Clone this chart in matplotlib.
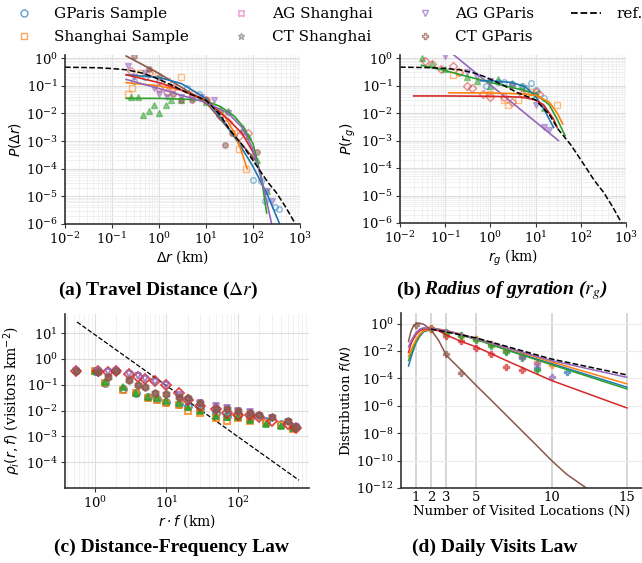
import matplotlib
matplotlib.use("Agg")
import matplotlib.pyplot as plt
from matplotlib.lines import Line2D

plt.rcParams['font.family'] = ['DejaVu Serif']
plt.rcParams['font.size'] = 9.5

# colores tab10 para las series de los paneles
C_BLUE, C_ORANGE, C_GREEN = '#1f77b4', '#ff7f0e', '#2ca02c'
C_RED, C_PURPLE, C_BROWN = '#d62728', '#9467bd', '#8c564b'

# leyenda
legend_labels = ['GParis Sample', 'Shanghai Sample', 'AG Shanghai', 'CT Shanghai',
                 'AG GParis', 'CT GParis', 'ref.']

# ---------------- (a) Travel distance ----------------
ref_x = [0.01, 0.05, 0.1, 0.2, 0.4, 0.7, 1, 2, 4, 10, 20, 32, 60, 100, 200, 320, 500, 800]
ref_y = [0.47, 0.45, 0.42, 0.38, 0.3, 0.22, 0.17, 0.1, 0.055, 0.03, 0.009, 2.5e-3,
         7e-4, 2e-4, 3.5e-5, 1.3e-5, 4e-6, 1e-6]

a_fit = {
    C_BROWN: ([0.2, 1, 10, 110], [1.2, 0.28, 0.025, 2.1e-4]),
    C_BLUE: ([0.2, 0.5, 1, 3, 10, 30, 60, 100, 200, 370],
             [0.25, 0.22, 0.2, 0.12, 0.035, 3e-3, 5e-4, 1.2e-4, 1.2e-5, 1e-6]),
    C_ORANGE: ([0.2, 1, 3, 10, 25, 40, 55, 75],
               [0.13, 0.1, 0.07, 0.03, 8e-3, 2e-3, 5e-4, 1e-4]),
    C_GREEN: ([0.2, 1, 5, 10, 20, 40, 60, 100, 150, 195],
              [0.035, 0.035, 0.032, 0.028, 0.018, 8e-3, 3.5e-3, 8e-4, 5e-5, 2.5e-6]),
    C_RED: ([0.2, 1, 3, 10, 30, 60, 110],
            [0.25, 0.13, 0.07, 0.03, 6e-3, 1.8e-3, 3e-4]),
    C_PURPLE: ([0.2, 1, 3, 10, 30, 60, 100, 160, 250],
               [0.17, 0.08, 0.045, 0.025, 0.01, 3e-3, 5e-4, 3e-5, 1e-6]),
}
a_pts_blue = [(0.3, 0.15), (0.5, 0.2), (1, 0.15), (2, 0.12), (4, 0.08), (7, 0.05),
              (100, 4e-5), (150, 3.5e-5), (180, 7e-6), (300, 4e-6), (350, 3.5e-6)]
a_pts_orange = [(0.22, 0.05), (0.27, 0.08), (0.4, 0.3), (0.7, 0.3), (1.5, 0.15),
                (3, 0.2), (5, 0.05), (10, 0.03), (20, 0.01), (40, 2e-3), (50, 5e-4), (70, 1e-4)]
a_pts_green = [(0.25, 0.04), (0.35, 0.04), (0.45, 0.009), (0.6, 0.012), (0.8, 0.02),
               (1, 0.01), (1.4, 0.02), (1.8, 0.03), (3, 0.03), (10, 0.025), (20, 0.015),
               (30, 0.012), (60, 3e-3), (80, 1.5e-3), (120, 2e-4), (200, 1.5e-5)]
a_pts_red = [(0.25, 0.35), (0.6, 0.3), (1, 0.08), (1.5, 0.06), (2, 0.08), (5, 0.04),
             (10, 0.03), (20, 8e-3), (30, 5e-3), (50, 1.5e-3), (80, 2e-3)]
a_pts_purple = [(0.22, 0.5), (0.3, 0.2), (0.5, 0.3), (0.8, 0.08), (1, 0.05), (1.5, 0.04),
                (3, 0.04), (5, 0.035), (8, 0.04), (15, 0.03), (30, 0.01), (60, 2e-3),
                (200, 1.5e-5), (250, 7e-6)]
a_pts_brown = [(0.3, 1.2), (0.6, 0.4), (1, 0.2), (2, 0.05), (3, 0.03), (5, 0.03),
               (10, 0.03), (25, 7e-4), (35, 2e-3), (100, 3e-4), (120, 4e-4)]

# ---------------- (b) Radius of gyration ----------------
b_fit = {
    C_PURPLE: ([0.14, 32], [1.5, 1e-3]),
    C_GREEN: ([0.03, 0.1, 1, 5, 10, 20, 30, 45],
              [0.55, 0.35, 0.13, 0.07, 0.05, 0.02, 6e-3, 1.5e-3]),
    C_BLUE: ([0.6, 1, 3, 6, 10, 15, 20, 25],
             [0.15, 0.15, 0.13, 0.09, 0.04, 0.015, 6e-3, 3e-3]),
    C_ORANGE: ([0.12, 1, 5, 10, 20, 30, 40],
               [0.055, 0.054, 0.05, 0.045, 0.025, 0.01, 4e-3]),
    C_RED: ([0.02, 0.1, 1, 5, 10, 15, 25, 30],
            [0.042, 0.042, 0.041, 0.038, 0.03, 0.02, 6e-3, 3e-3]),
}
b_pts_green = [(0.03, 1.0), (0.05, 0.6), (0.1, 0.4), (0.3, 0.2), (0.5, 0.15), (1, 0.1),
               (1.5, 0.18), (3, 0.12), (5, 0.1), (10, 0.05), (15, 0.015)]
b_pts_red = [(0.035, 0.8), (0.05, 0.6), (0.08, 0.4), (0.15, 0.5), (0.2, 0.3), (0.3, 0.1),
             (0.4, 0.08), (0.7, 0.05), (1, 0.04), (2, 0.04), (3, 0.025), (5, 0.05),
             (10, 0.06), (12, 0.05)]
b_pts_blue = [(0.8, 0.1), (1.5, 0.13), (2, 0.13), (3, 0.11), (5, 0.1), (6, 0.08),
              (8, 0.12), (10, 0.07), (15, 0.035)]
b_pts_orange = [(0.15, 0.25), (0.2, 0.3), (1, 0.05), (2, 0.03), (2.5, 0.02), (4, 0.03),
                (6, 0.05), (8, 0.06), (30, 0.02)]
b_pts_purple = [(0.1, 1.2), (0.3, 0.3), (0.5, 0.2), (1, 0.15), (3, 0.1), (10, 0.02),
                (15, 3e-3), (20, 2.5e-3)]

# ---------------- (c) Distance-frequency law ----------------
c_ref_x = [0.56, 725]
c_ref_y = [27, 2e-5]
c_low_x = [1.0, 1.4, 2.5, 3.8, 5.5, 7.5, 10, 15, 20, 30, 50, 70, 100, 150, 250, 400, 600]
c_blue = [0.33, 0.12, 0.07, 0.05, 0.035, 0.028, 0.022, 0.018, 0.015, 0.011, 0.008,
          0.006, 0.0065, 0.005, 0.004, 0.003, 0.0023]
c_orange = [0.33, 0.12, 0.065, 0.048, 0.032, 0.025, 0.02, 0.016, 0.01, 0.008, 0.005,
            0.004, 0.005, 0.004, 0.0033, 0.0028, 0.002]
c_green = [0.33, 0.125, 0.08, 0.05, 0.034, 0.03, 0.024, 0.019, 0.014, 0.01, 0.006,
           0.0055, 0.0055, 0.0045, 0.003, 0.0025, 0.0022]
c_high_x = [0.55, 1.1, 1.5, 2, 3, 4, 5, 7, 10, 15, 20, 30, 50, 70, 100, 150, 200, 300, 500, 650]
c_red = [0.33, 0.33, 0.3, 0.33, 0.26, 0.2, 0.17, 0.14, 0.1, 0.05, 0.025, 0.015,
         0.012, 0.008, 0.007, 0.007, 0.0055, 0.004, 0.003, 0.0022]
c_purple = [0.33, 0.33, 0.3, 0.33, 0.25, 0.22, 0.16, 0.13, 0.1, 0.04, 0.025, 0.02,
            0.015, 0.013, 0.01, 0.009, 0.006, 0.005, 0.0035, 0.0024]
c_brown = [0.33, 0.3, 0.2, 0.33, 0.15, 0.1, 0.08, 0.05, 0.045, 0.035, 0.03, 0.02,
           0.012, 0.012, 0.01, 0.008, 0.007, 0.0055, 0.004, 0.0024]

# ---------------- (d) Daily visits law ----------------
d_x = [0.5, 0.65, 0.8, 1.0, 1.25, 1.5, 2, 2.5, 3, 4, 5, 7, 10, 15]
d_blue = [8e-4, 3e-3, 0.01, 0.04, 0.12, 0.25, 0.4, 0.38, 0.3, 0.15, 0.07, 0.013, 1.2e-3, 2.3e-5]
d_red = [0.008, 0.03, 0.07, 0.16, 0.3, 0.4, 0.42, 0.3, 0.15, 0.05, 0.02, 2e-3, 7e-5, 7e-7]
d_orange = [4e-3, 0.01, 0.025, 0.07, 0.18, 0.3, 0.42, 0.4, 0.32, 0.17, 0.08, 0.017, 1.6e-3, 4e-5]
d_green = [2e-3, 6e-3, 0.015, 0.05, 0.14, 0.28, 0.4, 0.38, 0.3, 0.15, 0.07, 0.012, 1e-3, 1.7e-5]
d_purple = [0.02, 0.05, 0.1, 0.22, 0.4, 0.5, 0.45, 0.38, 0.3, 0.16, 0.08, 0.018, 2e-3, 1.2e-4]
d_brown_x = [0.5, 0.65, 0.8, 1.0, 1.2, 1.5, 2, 2.5, 3, 4, 5, 6, 7, 8, 9, 10, 11, 12.3]
d_brown = [0.05, 0.25, 0.6, 0.95, 1.1, 0.9, 0.35, 0.06, 5e-3, 4e-4, 3e-5, 2.5e-6,
           2e-7, 1.6e-8, 1.3e-9, 1e-10, 1e-11, 1e-12]
d_ref_x = [2, 3, 5, 7, 10, 15]
d_ref_y = [0.4, 0.25, 0.09, 0.022, 2.6e-3, 1.8e-4]
d_pts = {
    C_BROWN: [(1, 0.85), (2, 0.38), (3, 6e-3), (4, 2.7e-4)],
    C_RED: [(2, 0.45), (3, 0.13), (4, 0.055), (5, 0.018), (6, 6e-3), (7, 7e-4), (8, 4e-4)],
    C_BLUE: [(2, 0.4), (3, 0.25), (4, 0.15), (5, 0.08), (6, 0.035), (7, 0.01), (8, 4e-3),
             (9, 6e-4), (11, 3e-4)],
    C_ORANGE: [(2, 0.4), (3, 0.22), (4, 0.12), (5, 0.07), (6, 0.032), (7, 0.012), (8, 5e-3),
               (9, 1.5e-3), (10, 9e-4)],
    C_GREEN: [(3, 0.22), (4, 0.12), (5, 0.065), (6, 0.025), (7, 8e-3), (8, 3e-3), (9, 4e-4)],
    C_PURPLE: [(8, 3.5e-3), (9, 1.2e-3), (10, 1.2e-4)],
}


def style_axes(ax, minor=True):
    ax.set_facecolor('white')
    ax.grid(which='major', color='#dedede', lw=0.8)
    if minor:
        ax.grid(which='minor', color='#ececec', lw=0.5)
    ax.set_axisbelow(True)
    for s in ['top', 'right']:
        ax.spines[s].set_visible(False)
    for s in ['left', 'bottom']:
        ax.spines[s].set_color('#333333')
        ax.spines[s].set_linewidth(1.2)
    ax.tick_params(which='major', length=3, color='#333333', labelsize=9.5, pad=2)
    ax.tick_params(which='minor', length=0)


def scatter_pts(ax, pts, color, marker, filled=False, ms=4, alpha=0.5):
    xs = [p[0] for p in pts]
    ys = [p[1] for p in pts]
    ax.plot(xs, ys, ls='none', marker=marker, ms=ms, mec=color,
            mfc=color if filled else 'none', mew=1.0, alpha=alpha)


fig = plt.figure(figsize=(6.42, 5.63), dpi=100)
W, H = 642, 563


def axes_px(x0, y0, x1, y1):
    return fig.add_axes([x0 / W, 1 - y1 / H, (x1 - x0) / W, (y1 - y0) / H])


# ---- panel (a)
ax = axes_px(65, 55, 300, 224)
style_axes(ax)
ax.set_xscale('log')
ax.set_yscale('log')
scatter_pts(ax, a_pts_blue, C_BLUE, 'o')
scatter_pts(ax, a_pts_orange, C_ORANGE, 's')
scatter_pts(ax, a_pts_green, C_GREEN, '^', filled=True)
scatter_pts(ax, a_pts_red, C_RED, 'D')
scatter_pts(ax, a_pts_purple, C_PURPLE, 'v', filled=True)
scatter_pts(ax, a_pts_brown, C_BROWN, 'o', filled=True)
for col, (xs, ys) in a_fit.items():
    ax.plot(xs, ys, color=col, lw=1.2)
ax.plot(ref_x, ref_y, 'k--', lw=1.1)
ax.set_xlim(1e-2, 1e3)
ax.set_ylim(1e-6, 1.3)
ax.set_xticks([1e-2, 1e-1, 1e0, 1e1, 1e2, 1e3])
ax.set_yticks([1e-6, 1e-5, 1e-4, 1e-3, 1e-2, 1e-1, 1e0])
ax.set_xlabel(r'$\Delta r$ (km)', labelpad=1, fontsize=10)
ax.set_ylabel(r'$P(\Delta r)$', labelpad=2, fontsize=10)

# ---- panel (b)
ax = axes_px(400, 55, 626, 223)
style_axes(ax)
ax.set_xscale('log')
ax.set_yscale('log')
scatter_pts(ax, b_pts_green, C_GREEN, '^', filled=True)
scatter_pts(ax, b_pts_red, C_RED, 'D')
scatter_pts(ax, b_pts_blue, C_BLUE, 'o')
scatter_pts(ax, b_pts_orange, C_ORANGE, 's')
scatter_pts(ax, b_pts_purple, C_PURPLE, 'v', filled=True)
for col, (xs, ys) in b_fit.items():
    ax.plot(xs, ys, color=col, lw=1.2)
ax.plot(ref_x, ref_y, 'k--', lw=1.1)
ax.set_xlim(1e-2, 1e3)
ax.set_ylim(1e-6, 1.3)
ax.set_xticks([1e-2, 1e-1, 1e0, 1e1, 1e2, 1e3])
ax.set_yticks([1e-6, 1e-5, 1e-4, 1e-3, 1e-2, 1e-1, 1e0])
ax.set_xlabel(r'$r_g$ (km)', labelpad=1, fontsize=10)
ax.set_ylabel(r'$P(r_g)$', labelpad=2, fontsize=10)

# ---- panel (c)
ax = axes_px(65, 314, 309, 488)
style_axes(ax)
ax.set_xscale('log')
ax.set_yscale('log')
ax.plot(c_ref_x, c_ref_y, 'k--', lw=0.9)
for xs, ys, col, mk, fill in [(c_low_x, c_blue, C_BLUE, 'o', False),
                              (c_low_x, c_orange, C_ORANGE, 's', False),
                              (c_low_x, c_green, C_GREEN, '^', True),
                              (c_high_x, c_red, C_RED, 'D', False),
                              (c_high_x, c_purple, C_PURPLE, 'v', False),
                              (c_high_x, c_brown, C_BROWN, 'h', True)]:
    ax.plot(xs, ys, ls='none', marker=mk, ms=5, mec=col,
            mfc=col if fill else 'none', mew=1.3, alpha=0.85)
ax.set_xlim(0.38, 1000)
ax.set_ylim(1e-5, 55)
ax.set_xticks([1e0, 1e1, 1e2])
ax.set_yticks([1e-4, 1e-3, 1e-2, 1e-1, 1e0, 1e1])
ax.set_xlabel(r'$r \cdot f$ (km)', labelpad=1, fontsize=10)
ax.set_ylabel(r'$\rho_i(r, f)$ (visitors km$^{-2}$)', labelpad=2, fontsize=10)

# ---- panel (d)
ax = axes_px(401, 313, 642, 488)
style_axes(ax, minor=False)
ax.set_yscale('log')
ax.grid(False)
ax.grid(axis='y', which='major', color='#ececec', lw=0.8)
ax.grid(axis='x', which='major', color='#cfcfcf', lw=1.2)
for col, pts in d_pts.items():
    scatter_pts(ax, pts, col, 'P', filled=True, ms=5, alpha=0.6)
for ys, col in [(d_blue, C_BLUE), (d_green, C_GREEN), (d_orange, C_ORANGE),
                (d_red, C_RED), (d_purple, C_PURPLE)]:
    ax.plot(d_x, ys, color=col, lw=1.1)
ax.plot(d_brown_x, d_brown, color=C_BROWN, lw=1.1)
ax.plot(d_ref_x, d_ref_y, 'k--', lw=1.1)
ax.set_xlim(0, 16)
ax.set_ylim(1e-12, 6)
ax.set_xticks([1, 2, 3, 5, 10, 15])
ax.set_yticks([1e-12, 1e-10, 1e-8, 1e-6, 1e-4, 1e-2, 1e0])
ax.minorticks_off()
ax.tick_params(axis='x', length=0)
ax.set_xlabel('Number of Visited Locations (N)', labelpad=1)
ax.set_ylabel(r'Distribution $f(N)$', labelpad=2)

# ---- leyenda global
handles = [
    Line2D([], [], ls='none', marker='o', mec=C_BLUE, mfc='none', ms=5, alpha=0.7),
    Line2D([], [], ls='none', marker='s', mec=C_ORANGE, mfc='none', ms=5, alpha=0.7),
    Line2D([], [], ls='none', marker='X', mec='#e377c2', mfc='none', ms=5, alpha=0.7),
    Line2D([], [], ls='none', marker='*', mec='#7f7f7f', mfc='none', ms=5, alpha=0.7),
    Line2D([], [], ls='none', marker='v', mec=C_PURPLE, mfc='none', ms=5, alpha=0.7),
    Line2D([], [], ls='none', marker='P', mec=C_BROWN, mfc='none', ms=5, alpha=0.7),
    Line2D([], [], color='black', ls='--', lw=1.3),
]
fig.legend(handles, legend_labels, ncol=4, loc='upper left', bbox_to_anchor=(-0.008, 1.012),
           frameon=False, fontsize=11, handlelength=2.0, columnspacing=2.4,
           handletextpad=1.0, labelspacing=0.6)

# ---- pies de figura
cap = dict(fontsize=14, fontweight='bold', family='Liberation Serif',
           va='center', math_fontfamily='stix')
fig.text(158 / W, 1 - 290 / H, r'(a) Travel Distance ($\Delta r$)', ha='center', **cap)
fig.text(397 / W, 1 - 290 / H, '(b) ', ha='left', **cap)
fig.text(424 / W, 1 - 290 / H, r'Radius of gyration ($r_g$)', style='italic',
         ha='left', **cap)
fig.text(172 / W, 1 - 547 / H, '(c) Distance-Frequency Law', ha='center', **cap)
fig.text(495 / W, 1 - 547 / H, '(d) Daily Visits Law', ha='center', **cap)

fig.savefig('out.png', dpi=100)
